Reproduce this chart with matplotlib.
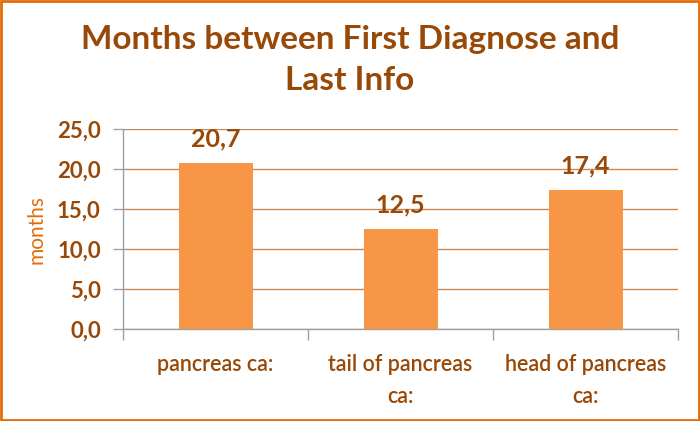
import matplotlib
matplotlib.use("Agg")
import matplotlib.pyplot as plt
from matplotlib.patches import Rectangle

categories = ["pancreas ca:", "tail of pancreas\nca:", "head of pancreas\nca:"]
values = [20.7, 12.5, 17.4]
yticks = [0, 5, 10, 15, 20, 25]
ytick_labels = ["0,0", "5,0", "10,0", "15,0", "20,0", "25,0"]
value_labels = ["20,7", "12,5", "17,4"]

BROWN = "#984807"
ORANGE = "#F79646"
plt.rcParams['font.family'] = ['Lato', 'DejaVu Sans']

fig = plt.figure(figsize=(7, 4.21), dpi=100)
fig.patches.append(Rectangle((0.002, 0.003), 0.996, 0.994, transform=fig.transFigure,
                             fill=False, edgecolor="#E46C0A", linewidth=2))
ax = fig.add_axes([123/700, 1-329/421, 555/700, 200/421])

x = list(range(len(categories)))
ax.bar(x, values, width=0.40, color=ORANGE, zorder=3)
ax.set_xlim(-0.5, 2.5)
ax.set_ylim(0, 25)
ax.set_yticks(yticks)
ax.set_yticklabels(ytick_labels, fontsize=16, fontweight='bold', color=BROWN)
ax.yaxis.grid(True, color="#C8895A", linewidth=1, zorder=0)
ax.set_axisbelow(True)

ax.set_xticks(x)
ax.set_xticklabels(categories, fontsize=15.5, color=BROWN, linespacing=1.65,
                   fontweight='semibold')
ax.tick_params(axis='x', which='major', length=0, pad=18)
ax.set_xticks([-0.5, 0.5, 1.5, 2.5], minor=True)
ax.tick_params(axis='x', which='minor', length=8, color="#A0A0A0", width=1)
ax.tick_params(axis='y', length=7, color="#A0A0A0", width=1, pad=9)

for s in ['top', 'right']:
    ax.spines[s].set_visible(False)
for s in ['left', 'bottom']:
    ax.spines[s].set_color("#A0A0A0")
    ax.spines[s].set_linewidth(1)

for xi, v, lab in zip(x, values, value_labels):
    ax.annotate(lab, (xi, v), xytext=(0, 9), textcoords='offset points',
                ha='center', va='bottom', fontsize=18, fontweight='bold', color=BROWN)

ax.set_ylabel("months", fontsize=15, color="#E46C0A")
ax.yaxis.set_label_coords((46 - 123) / 555, 0.5)

fig.text(0.5, 1-40/421, "Months between First Diagnose and", ha='center', va='center',
         fontsize=24, fontweight='bold', color=BROWN)
fig.text(0.5, 1-81/421, "Last Info", ha='center', va='center',
         fontsize=24, fontweight='bold', color=BROWN)

fig.savefig("out.png", dpi=100)
